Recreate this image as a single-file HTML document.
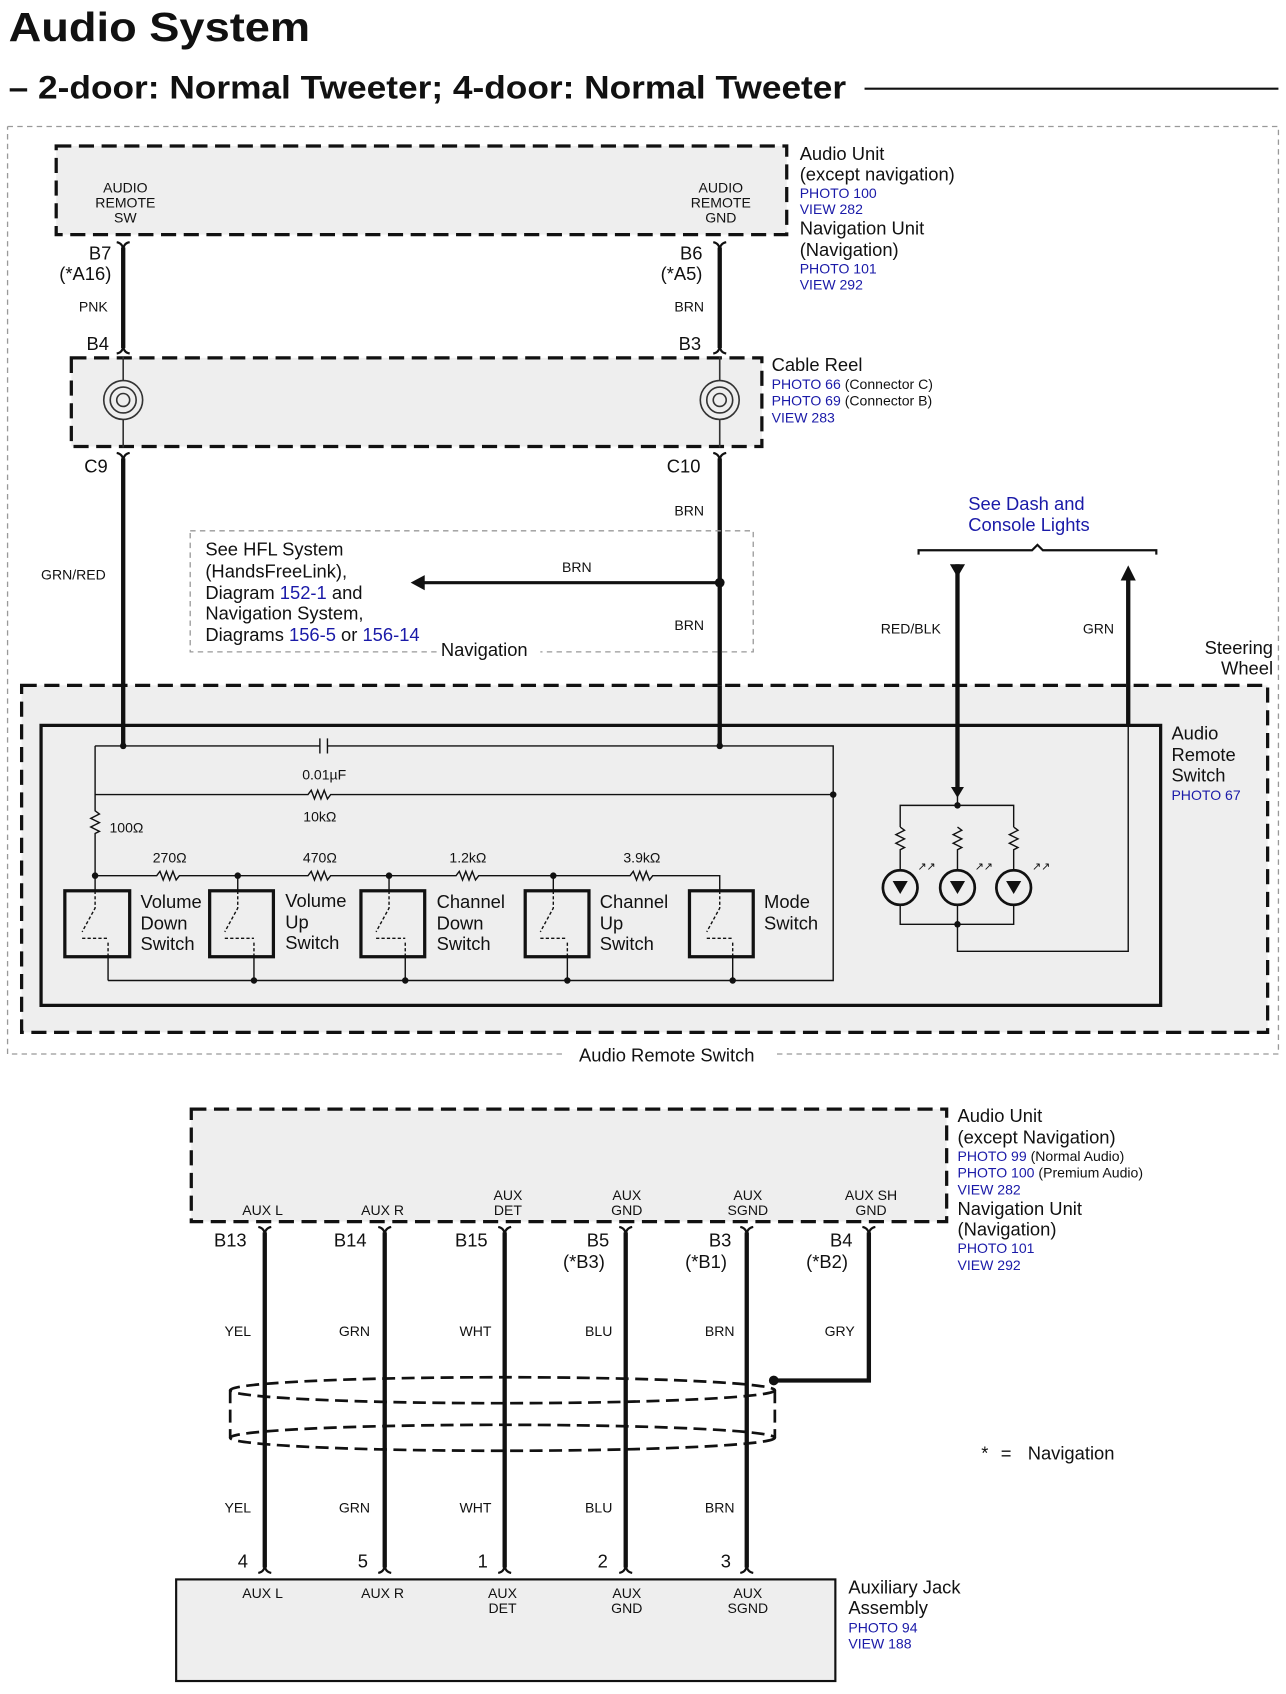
<!DOCTYPE html>
<html><head><meta charset="utf-8"><style>
html,body{margin:0;padding:0;background:#fff}
svg{display:block}
text{font-family:"Liberation Sans",Arial,sans-serif;fill:#111}
.b{fill:#1a1aa8}
</style></head><body>
<svg width="1286" height="1694" viewBox="0 0 1190 1567" preserveAspectRatio="none" xmlns="http://www.w3.org/2000/svg">
<defs>
<g id="top"><path d="M-6,-5 Q0,-4 0,3 Q0,-4 6,-5" fill="none" stroke="#111" stroke-width="2"/></g>
<g id="bot"><path d="M-6,5 Q0,4 0,-3 Q0,4 6,5" fill="none" stroke="#111" stroke-width="2"/></g>
</defs>
<text x="8" y="38" font-size="38" font-weight="bold" textLength="279" lengthAdjust="spacingAndGlyphs">Audio System</text>
<text x="8" y="91" font-size="30" font-weight="bold" textLength="775" lengthAdjust="spacingAndGlyphs">– 2-door: Normal Tweeter; 4-door: Normal Tweeter</text>
<line x1="800" y1="82" x2="1183" y2="82" stroke="#111" stroke-width="2"/>

<path d="M7,117 H1183 V975 H718 M520,975 H7 V117" fill="none" stroke="#999" stroke-width="1.2" stroke-dasharray="5,4"/>
<text x="617" y="982" font-size="17" text-anchor="middle">Audio Remote Switch</text>

<rect x="52" y="135" width="676" height="82" fill="#eee" stroke="#111" stroke-width="3" stroke-dasharray="14,7"/>
<g font-size="13" text-anchor="middle"><text x="116" y="178">AUDIO</text><text x="116" y="192">REMOTE</text><text x="116" y="206">SW</text>
<text x="667" y="178">AUDIO</text><text x="667" y="192">REMOTE</text><text x="667" y="206">GND</text></g>
<g font-size="17"><text x="740" y="148">Audio Unit</text><text x="740" y="167">(except navigation)</text>
<text x="740" y="217">Navigation Unit</text><text x="740" y="237">(Navigation)</text></g>
<g font-size="13"><text class="b" x="740" y="183">PHOTO 100</text><text class="b" x="740" y="198">VIEW 282</text>
<text class="b" x="740" y="253">PHOTO 101</text><text class="b" x="740" y="268">VIEW 292</text></g>

<g stroke="#111" stroke-width="4"><line x1="114" y1="229" x2="114" y2="322"/><line x1="666" y1="229" x2="666" y2="322"/>
<line x1="114" y1="424" x2="114" y2="690"/><line x1="666" y1="424" x2="666" y2="690"/></g>
<use href="#top" x="114" y="229"/><use href="#top" x="666" y="229"/><use href="#bot" x="114" y="322"/><use href="#bot" x="666" y="322"/>
<use href="#top" x="114" y="424"/><use href="#top" x="666" y="424"/>
<g font-size="17"><text x="103" y="240" text-anchor="end">B7</text><text x="103" y="259" text-anchor="end">(*A16)</text>
<text x="650" y="240" text-anchor="end">B6</text><text x="650" y="259" text-anchor="end">(*A5)</text>
<text x="80" y="324">B4</text><text x="628" y="324">B3</text><text x="78" y="437">C9</text><text x="617" y="437">C10</text></g>
<g font-size="13"><text x="73" y="288">PNK</text><text x="624" y="288">BRN</text><text x="624" y="477">BRN</text><text x="624" y="583">BRN</text>
<text x="38" y="536">GRN/RED</text><text x="520" y="529">BRN</text><text x="815" y="586">RED/BLK</text><text x="1002" y="586">GRN</text></g>

<rect x="66" y="331" width="639" height="82" fill="#eee" stroke="#111" stroke-width="3" stroke-dasharray="14,7"/>
<g fill="none" stroke="#333" stroke-width="1.5"><circle cx="114" cy="370" r="18"/><circle cx="114" cy="370" r="12"/><circle cx="114" cy="370" r="6"/>
<circle cx="666" cy="370" r="18"/><circle cx="666" cy="370" r="12"/><circle cx="666" cy="370" r="6"/>
<line x1="114" y1="330" x2="114" y2="352"/><line x1="114" y1="388" x2="114" y2="414"/><line x1="666" y1="330" x2="666" y2="352"/><line x1="666" y1="388" x2="666" y2="414"/></g>
<text x="714" y="343" font-size="17">Cable Reel</text>
<g font-size="13"><text x="714" y="360"><tspan class="b">PHOTO 66</tspan> (Connector C)</text><text x="714" y="375"><tspan class="b">PHOTO 69</tspan> (Connector B)</text><text class="b" x="714" y="391">VIEW 283</text></g>

<path d="M176,491 H697 V603 H500 M404,603 H176 V491" fill="none" stroke="#999" stroke-width="1.2" stroke-dasharray="5,4"/>
<g font-size="17"><text x="190" y="514">See HFL System</text><text x="190" y="534">(HandsFreeLink),</text>
<text x="190" y="554">Diagram <tspan class="b">152-1</tspan> and</text><text x="190" y="573">Navigation System,</text>
<text x="190" y="593">Diagrams <tspan class="b">156-5</tspan> or <tspan class="b">156-14</tspan></text><text x="408" y="607">Navigation</text></g>
<line x1="390" y1="539" x2="666" y2="539" stroke="#111" stroke-width="3"/>
<path d="M380,539 L393,532 L393,546 Z" fill="#111"/><circle cx="666" cy="539" r="4.5" fill="#111"/>

<text class="b" x="896" y="472" font-size="17">See Dash and</text><text class="b" x="896" y="491" font-size="17">Console Lights</text>
<path d="M850,513 V509 H955 L960,504 L965,509 H1070 V513" fill="none" stroke="#111" stroke-width="2"/>
<text x="1178" y="605" font-size="17" text-anchor="end">Steering</text><text x="1178" y="624" font-size="17" text-anchor="end">Wheel</text>

<rect x="20" y="634" width="1153" height="321" fill="#eee" stroke="#111" stroke-width="3" stroke-dasharray="14,7"/>
<rect x="38" y="671" width="1036" height="259" fill="#eee" stroke="#111" stroke-width="3"/>
<g font-size="17"><text x="1084" y="684">Audio</text><text x="1084" y="704">Remote</text><text x="1084" y="723">Switch</text></g>
<text class="b" x="1084" y="740" font-size="13">PHOTO 67</text>
<g stroke="#111" stroke-width="4"><line x1="114" y1="634" x2="114" y2="690"/><line x1="666" y1="634" x2="666" y2="690"/>
<line x1="886" y1="522" x2="886" y2="728"/><line x1="1044" y1="535" x2="1044" y2="672"/></g>
<path d="M879,522 H893 L886,534 Z M1037,537 H1051 L1044,523 Z" fill="#111"/>

<g fill="none" stroke="#111" stroke-width="1.3">
<path d="M88,690 H296 M303,690 H771 V907 H100"/>
<path d="M296,683 V697 M303,683 V697"/>
<path d="M88,690 V750 l4,3 -8,4 8,4 -8,4 8,4 -4,2 V810 H145 l3,-4 3,8 3,-8 3,8 3,-8 3,8 3,-4 H285 l3,-4 3,8 3,-8 3,8 3,-8 3,8 3,-4 H422 l3,-4 3,8 3,-8 3,8 3,-8 3,8 3,-4 H583 l3,-4 3,8 3,-8 3,8 3,-8 3,8 3,-4 H666 V825"/>
<path d="M88,735 H285 l3,-4 3,8 3,-8 3,8 3,-8 3,8 3,-4 H771"/>
<path d="M88,810 V825 M220,810 V825 M360,810 V825 M512,810 V825"/>
<path d="M100,885 V907 M235,885 V907 M375,885 V907 M525,885 V907 M678,885 V907"/>
<path d="M886,728 V745 M833,765 V745 H938 V765 M833,765 l4,3 -8,4 8,4 -8,4 8,4 -4,2 V805 M886,765 l4,3 -8,4 8,4 -8,4 8,4 -4,2 V805 M938,765 l4,3 -8,4 8,4 -8,4 8,4 -4,2 V805"/>
<path d="M833,837 V855 H938 V837 M886,837 V880 H1044 V672"/>
</g>
<path d="M880,728 H892 L886,738 Z" fill="#111"/>
<g fill="#111"><circle cx="114" cy="690" r="3"/><circle cx="666" cy="690" r="3"/><circle cx="771" cy="735" r="3"/>
<circle cx="88" cy="810" r="3"/><circle cx="220" cy="810" r="3"/><circle cx="360" cy="810" r="3"/><circle cx="512" cy="810" r="3"/>
<circle cx="235" cy="907" r="3"/><circle cx="375" cy="907" r="3"/><circle cx="525" cy="907" r="3"/><circle cx="678" cy="907" r="3"/>
<circle cx="886" cy="745" r="3"/><circle cx="886" cy="855" r="3"/></g>
<g font-size="13" text-anchor="middle"><text x="300" y="721">0.01µF</text><text x="296" y="760">10kΩ</text><text x="117" y="770">100Ω</text>
<text x="157" y="798">270Ω</text><text x="296" y="798">470Ω</text><text x="433" y="798">1.2kΩ</text><text x="594" y="798">3.9kΩ</text></g>
<g fill="none" stroke="#111">
<rect x="60" y="824" width="60" height="61" stroke-width="3"/><rect x="194" y="824" width="59" height="61" stroke-width="3"/>
<rect x="334" y="824" width="59" height="61" stroke-width="3"/><rect x="486" y="824" width="59" height="61" stroke-width="3"/><rect x="638" y="824" width="59" height="61" stroke-width="3"/>
<g stroke-width="1.3">
<path d="M88,824 V840 L76,862 M100,885 V870 M76,868 H100" stroke-dasharray="3,2"/>
<path d="M220,824 V840 L208,862 M235,885 V870 M208,868 H235" stroke-dasharray="3,2"/>
<path d="M360,824 V840 L348,862 M375,885 V870 M348,868 H375" stroke-dasharray="3,2"/>
<path d="M512,824 V840 L500,862 M525,885 V870 M500,868 H525" stroke-dasharray="3,2"/>
<path d="M666,824 V840 L654,862 M678,885 V870 M654,868 H678" stroke-dasharray="3,2"/>
</g>
<circle cx="833" cy="821" r="16" stroke-width="2.5"/><circle cx="886" cy="821" r="16" stroke-width="2.5"/><circle cx="938" cy="821" r="16" stroke-width="2.5"/>
</g>
<g fill="#111"><path d="M826,815 H840 L833,827 Z M879,815 H893 L886,827 Z M931,815 H945 L938,827 Z"/></g>
<g font-size="10" fill="#111"><text x="849" y="805">↗↗</text><text x="902" y="805">↗↗</text><text x="955" y="805">↗↗</text></g>
<g font-size="17">
<text x="130" y="840">Volume</text><text x="130" y="860">Down</text><text x="130" y="879">Switch</text>
<text x="264" y="839">Volume</text><text x="264" y="859">Up</text><text x="264" y="878">Switch</text>
<text x="404" y="840">Channel</text><text x="404" y="860">Down</text><text x="404" y="879">Switch</text>
<text x="555" y="840">Channel</text><text x="555" y="860">Up</text><text x="555" y="879">Switch</text>
<text x="707" y="840">Mode</text><text x="707" y="860">Switch</text></g>

<rect x="177" y="1026" width="699" height="104" fill="#eee" stroke="#111" stroke-width="3" stroke-dasharray="14,7"/>
<g font-size="13" text-anchor="middle"><text x="243" y="1124">AUX L</text><text x="354" y="1124">AUX R</text>
<text x="470" y="1110">AUX</text><text x="470" y="1124">DET</text><text x="580" y="1110">AUX</text><text x="580" y="1124">GND</text>
<text x="692" y="1110">AUX</text><text x="692" y="1124">SGND</text><text x="806" y="1110">AUX SH</text><text x="806" y="1124">GND</text></g>
<g font-size="17"><text x="886" y="1038">Audio Unit</text><text x="886" y="1058">(except Navigation)</text>
<text x="886" y="1124">Navigation Unit</text><text x="886" y="1143">(Navigation)</text></g>
<g font-size="13"><text x="886" y="1074"><tspan class="b">PHOTO 99</tspan> (Normal Audio)</text><text x="886" y="1089"><tspan class="b">PHOTO 100</tspan> (Premium Audio)</text>
<text class="b" x="886" y="1105">VIEW 282</text><text class="b" x="886" y="1159">PHOTO 101</text><text class="b" x="886" y="1175">VIEW 292</text></g>
<g stroke="#111" stroke-width="4" fill="none">
<line x1="245" y1="1140" x2="245" y2="1450"/><line x1="356" y1="1140" x2="356" y2="1450"/><line x1="467" y1="1140" x2="467" y2="1450"/>
<line x1="579" y1="1140" x2="579" y2="1450"/><line x1="691" y1="1140" x2="691" y2="1450"/><path d="M804,1140 V1277 H716"/></g>
<g><use href="#top" x="245" y="1140"/><use href="#top" x="356" y="1140"/><use href="#top" x="467" y="1140"/><use href="#top" x="579" y="1140"/><use href="#top" x="691" y="1140"/><use href="#top" x="804" y="1140"/>
<use href="#bot" x="245" y="1450"/><use href="#bot" x="356" y="1450"/><use href="#bot" x="467" y="1450"/><use href="#bot" x="579" y="1450"/><use href="#bot" x="691" y="1450"/></g>
<circle cx="716" cy="1277" r="4.5" fill="#111"/>
<g fill="none" stroke="#111" stroke-width="2.5" stroke-dasharray="12,6">
<ellipse cx="465" cy="1286" rx="252" ry="12"/><ellipse cx="465" cy="1330" rx="252" ry="12"/>
<line x1="213" y1="1286" x2="213" y2="1330"/><line x1="717" y1="1286" x2="717" y2="1330"/></g>
<g font-size="17"><text x="198" y="1153">B13</text><text x="309" y="1153">B14</text><text x="421" y="1153">B15</text>
<text x="543" y="1153">B5</text><text x="521" y="1173">(*B3)</text><text x="656" y="1153">B3</text><text x="634" y="1173">(*B1)</text>
<text x="768" y="1153">B4</text><text x="746" y="1173">(*B2)</text>
<text x="220" y="1450">4</text><text x="331" y="1450">5</text><text x="442" y="1450">1</text><text x="553" y="1450">2</text><text x="667" y="1450">3</text>
<text x="908" y="1350">*</text><text x="926" y="1350">=</text><text x="951" y="1350">Navigation</text></g>
<g font-size="13" text-anchor="middle"><text x="220" y="1236">YEL</text><text x="328" y="1236">GRN</text><text x="440" y="1236">WHT</text>
<text x="554" y="1236">BLU</text><text x="666" y="1236">BRN</text><text x="777" y="1236">GRY</text>
<text x="220" y="1399">YEL</text><text x="328" y="1399">GRN</text><text x="440" y="1399">WHT</text><text x="554" y="1399">BLU</text><text x="666" y="1399">BRN</text></g>
<rect x="163" y="1461" width="610" height="94" fill="#eee" stroke="#111" stroke-width="2"/>
<g font-size="13" text-anchor="middle"><text x="243" y="1478">AUX L</text><text x="354" y="1478">AUX R</text>
<text x="465" y="1478">AUX</text><text x="465" y="1492">DET</text><text x="580" y="1478">AUX</text><text x="580" y="1492">GND</text>
<text x="692" y="1478">AUX</text><text x="692" y="1492">SGND</text></g>
<g font-size="17"><text x="785" y="1474">Auxiliary Jack</text><text x="785" y="1493">Assembly</text></g>
<text class="b" x="785" y="1510" font-size="13">PHOTO 94</text><text class="b" x="785" y="1525" font-size="13">VIEW 188</text>
</svg>
</body></html>
